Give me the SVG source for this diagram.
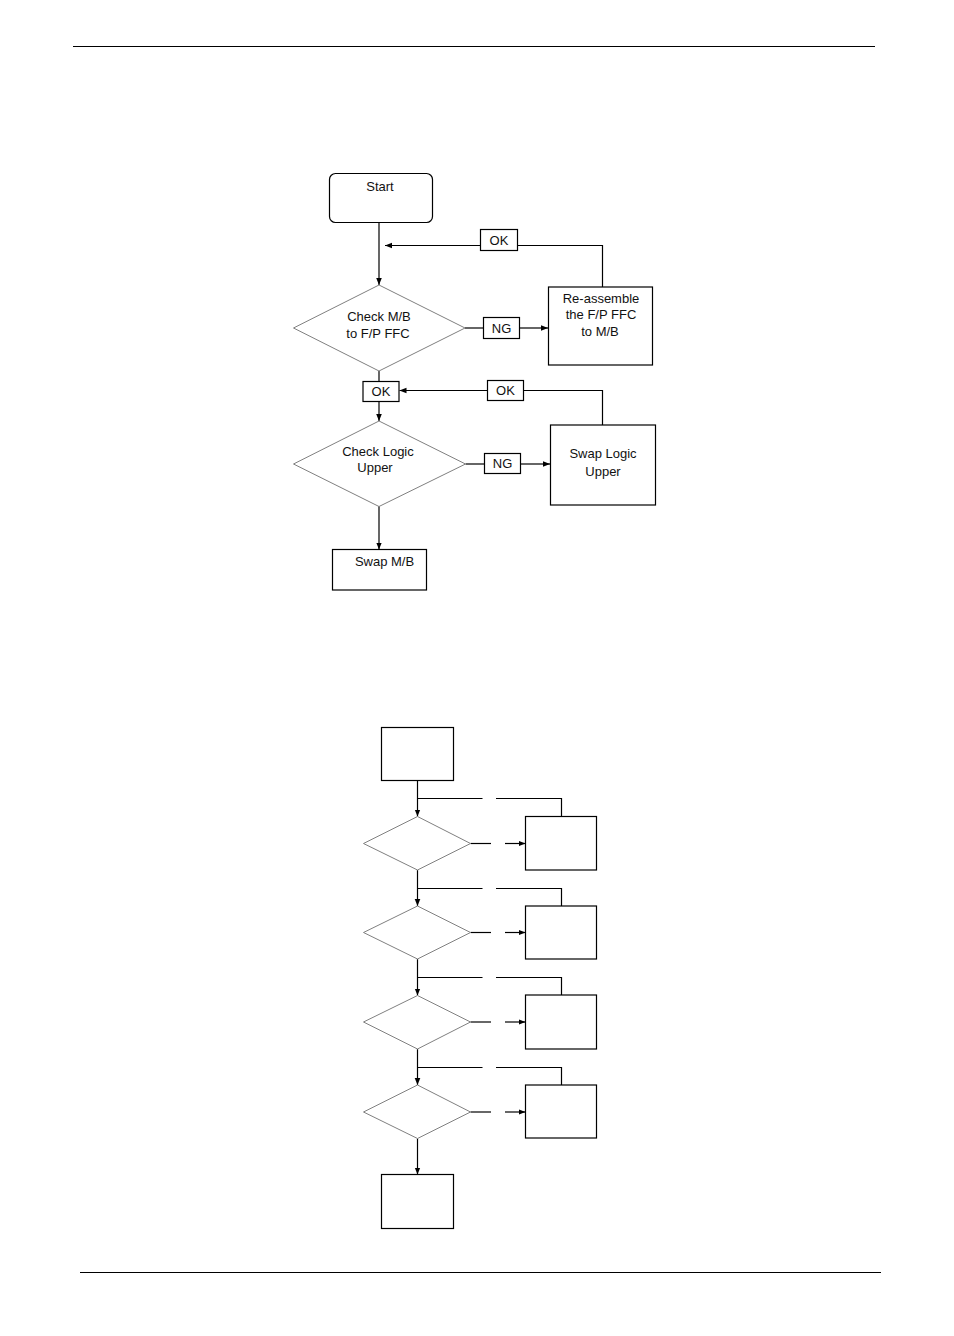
<svg xmlns="http://www.w3.org/2000/svg" width="954" height="1336" viewBox="0 0 954 1336">
<style>
.ln{stroke:#000;stroke-width:1.2;fill:none}
.bx{stroke:#000;stroke-width:1.2;fill:#fff}
.dm{stroke:#808080;stroke-width:1;fill:#fff}
.t{font-family:"Liberation Sans",Arial,sans-serif;font-size:13px;fill:#111;text-anchor:middle}
</style>
<defs>
<marker id="ah" viewBox="0 0 10 10" refX="10" refY="5" markerWidth="7" markerHeight="7" orient="auto" markerUnits="userSpaceOnUse">
<path d="M0,1 L10,5 L0,9 z" fill="#000"/>
</marker>
</defs>
<rect width="954" height="1336" fill="#fff"/>
<line x1="73" y1="46.5" x2="875" y2="46.5" stroke="#000" stroke-width="1"/>
<line x1="80" y1="1272.5" x2="881" y2="1272.5" stroke="#000" stroke-width="1"/>

<g id="connectors">
<!-- top chart -->
<line class="ln" x1="379" y1="222" x2="379" y2="285" marker-end="url(#ah)"/>
<polyline class="ln" points="602.5,287 602.5,245.5 518,245.5"/>
<line class="ln" x1="480" y1="245.5" x2="385" y2="245.5" marker-end="url(#ah)"/>
<line class="ln" x1="465" y1="328" x2="483.5" y2="328"/>
<line class="ln" x1="519.5" y1="328" x2="548" y2="328" marker-end="url(#ah)"/>
<line class="ln" x1="379" y1="371" x2="379" y2="384"/>
<line class="ln" x1="379" y1="402" x2="379" y2="421" marker-end="url(#ah)"/>
<polyline class="ln" points="602.5,425 602.5,390.5 523.5,390.5"/>
<line class="ln" x1="487.5" y1="390.5" x2="399.5" y2="390.5" marker-end="url(#ah)"/>
<line class="ln" x1="465.5" y1="464" x2="484" y2="464"/>
<line class="ln" x1="520" y1="464" x2="550" y2="464" marker-end="url(#ah)"/>
<line class="ln" x1="379" y1="506" x2="379" y2="549.5" marker-end="url(#ah)"/>
<!-- bottom chart -->
<line class="ln" x1="417.5" y1="780" x2="417.5" y2="816.5" marker-end="url(#ah)"/>
<line class="ln" x1="417.5" y1="870" x2="417.5" y2="906" marker-end="url(#ah)"/>
<line class="ln" x1="417.5" y1="959" x2="417.5" y2="995.5" marker-end="url(#ah)"/>
<line class="ln" x1="417.5" y1="1049" x2="417.5" y2="1085" marker-end="url(#ah)"/>
<line class="ln" x1="417.5" y1="1138.5" x2="417.5" y2="1174.5" marker-end="url(#ah)"/>

<line class="ln" x1="417.5" y1="798.5" x2="482.5" y2="798.5"/>
<polyline class="ln" points="496,798.5 561.5,798.5 561.5,816.5"/>
<line class="ln" x1="417.5" y1="888.5" x2="482.5" y2="888.5"/>
<polyline class="ln" points="496,888.5 561.5,888.5 561.5,906"/>
<line class="ln" x1="417.5" y1="977.5" x2="482.5" y2="977.5"/>
<polyline class="ln" points="496,977.5 561.5,977.5 561.5,995"/>
<line class="ln" x1="417.5" y1="1067.5" x2="482.5" y2="1067.5"/>
<polyline class="ln" points="496,1067.5 561.5,1067.5 561.5,1085"/>

<line class="ln" x1="470.5" y1="843.5" x2="491" y2="843.5"/>
<line class="ln" x1="505" y1="843.5" x2="525.5" y2="843.5" marker-end="url(#ah)"/>
<line class="ln" x1="470.5" y1="932.5" x2="491" y2="932.5"/>
<line class="ln" x1="505" y1="932.5" x2="525.5" y2="932.5" marker-end="url(#ah)"/>
<line class="ln" x1="470.5" y1="1022" x2="491" y2="1022"/>
<line class="ln" x1="505" y1="1022" x2="525.5" y2="1022" marker-end="url(#ah)"/>
<line class="ln" x1="470.5" y1="1112" x2="491" y2="1112"/>
<line class="ln" x1="505" y1="1112" x2="525.5" y2="1112" marker-end="url(#ah)"/>
</g>

<!-- top chart nodes -->
<g id="start">
<rect class="bx" x="329.5" y="173.5" width="103" height="49" rx="6"/>
<text class="t" x="380" y="191">Start</text>
</g>
<g id="check-mb">
<polygon class="dm" points="379,285 465,328 379,371 293.5,328"/>
<text class="t" x="379" y="321">Check M/B</text>
<text class="t" x="378" y="338">to F/P FFC</text>
</g>
<g id="ng1">
<rect class="bx" x="483.5" y="317.5" width="36" height="21"/>
<text class="t" x="501.5" y="332.5">NG</text>
</g>
<g id="reassemble">
<rect class="bx" x="548.5" y="287" width="104" height="78"/>
<text class="t" x="601" y="303">Re-assemble</text>
<text class="t" x="601" y="319">the F/P FFC</text>
<text class="t" x="600" y="336">to M/B</text>
</g>
<g id="ok1">
<rect class="bx" x="480.5" y="229.5" width="37" height="21"/>
<text class="t" x="499" y="245">OK</text>
</g>
<g id="ok2">
<rect class="bx" x="363" y="381.5" width="36" height="20"/>
<text class="t" x="381" y="396">OK</text>
</g>
<g id="ok3">
<rect class="bx" x="487.5" y="380.5" width="36" height="20"/>
<text class="t" x="505.5" y="395">OK</text>
</g>
<g id="check-logic">
<polygon class="dm" points="379,421 465.5,464 379,506.5 293.5,464"/>
<text class="t" x="378" y="456">Check Logic</text>
<text class="t" x="375" y="472">Upper</text>
</g>
<g id="ng2">
<rect class="bx" x="484.5" y="453.5" width="36" height="20"/>
<text class="t" x="502.5" y="468">NG</text>
</g>
<g id="swap-logic">
<rect class="bx" x="550.5" y="425" width="105" height="80"/>
<text class="t" x="603" y="458">Swap Logic</text>
<text class="t" x="603" y="476">Upper</text>
</g>
<g id="swap-mb">
<rect class="bx" x="332.5" y="549.5" width="94" height="40.5"/>
<text class="t" x="384.5" y="566">Swap M/B</text>
</g>

<!-- bottom chart nodes -->
<g id="b-start"><rect class="bx" x="381.5" y="727.5" width="72" height="53"/></g>
<g id="b-d1"><polygon class="dm" points="417.5,816.5 470.5,843.5 417.5,870 363.5,843.5"/></g>
<g id="b-r1"><rect class="bx" x="525.5" y="816.5" width="71" height="53.5"/></g>
<g id="b-d2"><polygon class="dm" points="417.5,906 470.5,932.5 417.5,959 363.5,932.5"/></g>
<g id="b-r2"><rect class="bx" x="525.5" y="906" width="71" height="53"/></g>
<g id="b-d3"><polygon class="dm" points="417.5,995.5 470.5,1022 417.5,1049 363.5,1022"/></g>
<g id="b-r3"><rect class="bx" x="525.5" y="995" width="71" height="54"/></g>
<g id="b-d4"><polygon class="dm" points="417.5,1085 470.5,1112 417.5,1138.5 363.5,1112"/></g>
<g id="b-r4"><rect class="bx" x="525.5" y="1085" width="71" height="53"/></g>
<g id="b-end"><rect class="bx" x="381.5" y="1174.5" width="72" height="54"/></g>
</svg>
